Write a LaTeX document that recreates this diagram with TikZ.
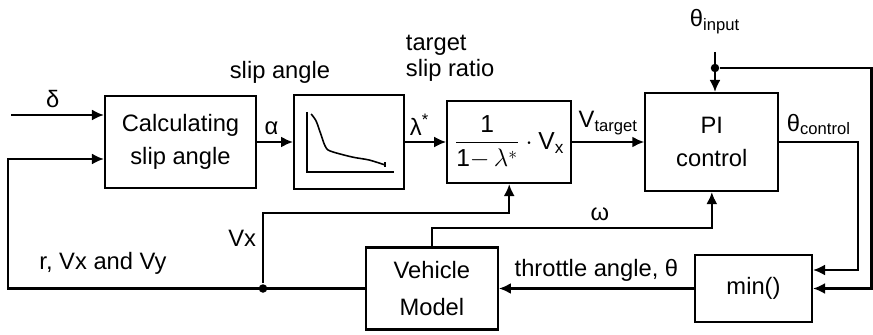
\documentclass[tikz,border=0pt]{standalone}
\usepackage{amsmath}
\usepackage{fontspec}
\setmainfont{Liberation Sans}
\usetikzlibrary{positioning,arrows.meta,calc}

\begin{document}
\begin{tikzpicture}[box/.style={draw,align=center,inner sep=2pt,
  font=\fontsize{13.5}{19}\selectfont},line width=1.2pt,
  >={Latex[length=2.4mm,width=2.2mm]},font=\fontsize{13.5}{15}\selectfont,
  dot/.style={circle,fill,inner sep=0pt,minimum size=1.7mm}]
\useasboundingbox (0,0) rectangle (17.46,-6.7);
\node[box,minimum width=3.02cm,minimum height=1.84cm] (calc) at (3.61,-2.84) {Calculating\\slip angle};
\node[box,right=0.72cm of calc,minimum width=2.2cm,minimum height=1.88cm] (graph) {};
\node[box,right=0.82cm of graph,minimum width=2.48cm,minimum height=1.64cm,inner sep=1pt,
  font=\fontsize{14}{18}\selectfont] (form) {$\dfrac{\text{1}}{\text{1}{-}\,\lambda^{*}}\cdot\text{V}_{\text{x}}$};
\node[box,right=1.44cm of form,minimum width=2.66cm,minimum height=1.96cm] (pi) {PI\\control};
\node[box,minimum width=2.34cm,minimum height=1.34cm] (minb) at (15.07,-5.77) {min()};
\node[box,left=3.9cm of minb,minimum width=2.64cm,minimum height=1.64cm,
  font=\fontsize{13.5}{21}\selectfont] (veh) {Vehicle\\Model};
% labels
\node (sal) at (5.6,-1.44) {slip angle};
\node[align=left,anchor=west] (tsr) at (7.98,-1.17) {target\\slip ratio};
\node (fbl) at (2.06,-5.26) {r, Vx and Vy};
% slip curve
\begin{scope}[shift={(graph.center)},line width=0.9pt]
\draw (-0.84,0.60) -- (-0.84,-0.60) -- (0.90,-0.60);
\draw plot[smooth] coordinates {(-0.76,0.56) (-0.66,0.42) (-0.56,0.14) (-0.48,-0.08) (-0.38,-0.18) (0.06,-0.30) (0.40,-0.36) (0.72,-0.46)};
\draw (0.72,-0.41) -- (0.72,-0.51);
\end{scope}
% signal flow
\coordinate (din) at (0.22,-2.30);
\draw[->] (din) -- node[above,pos=0.45]{δ} (din -| calc.west);
\draw[->] (calc) -- node[above,pos=0.4]{α} (graph);
\draw[->] (graph) -- node[above,pos=0.35]{λ\textsuperscript{*}} (form);
\draw[->] (form) -- node[above]{V\textsubscript{target}} (pi);
\coordinate (tin) at (14.30,-1.04);
\node[above=0.22cm] (tinl) at (tin) {θ\textsubscript{input}};
\node[dot] (tj) at (14.30,-1.36) {};
\draw[->] (tin) -- (tin |- pi.north);
\coordinate (tr) at (17.43,-1.36);
\draw[->] (tj) -- (tr) |- (minb.east);
\draw[->] (pi.east) -- node[above]{θ\textsubscript{control}} ++(1.58,0) |- ($(minb.east)+(0,0.37)$);
\draw[->] (minb) -- node[above]{throttle angle, θ} (veh);
\draw[->] (veh.north) -- ++(0,0.37) -| node[above,pos=0.3]{ω} (pi.south);
\node[dot] (jn) at (5.26,-5.77) {};
\draw[->] (jn) -- node[left,pos=0.64]{Vx} (5.26,-4.26) -| (form.south);
\coordinate (fbc) at (0.16,-5.77);
\draw[->] (veh.west) -- (fbc) |- ($(calc.west)+(0,-0.34)$);
\end{tikzpicture}
\end{document}
